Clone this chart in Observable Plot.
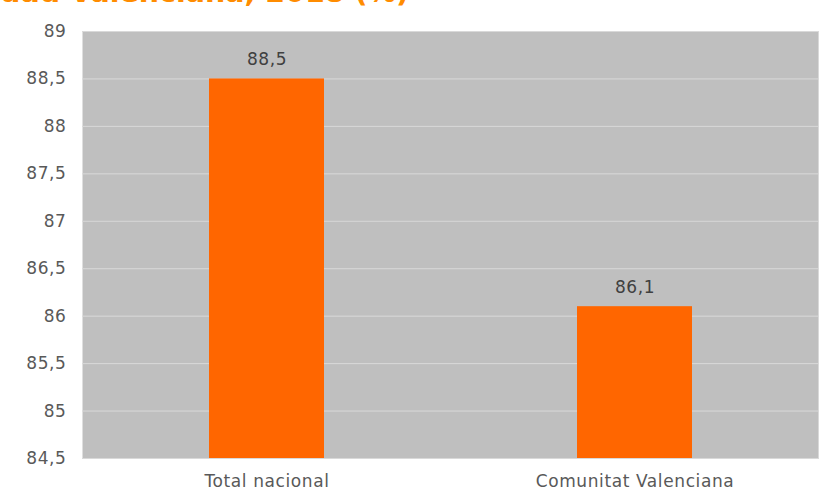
<!DOCTYPE html>
<html>
<head>
<meta charset="utf-8">
<script src="https://cdn.jsdelivr.net/npm/d3@7"></script>
<script src="https://cdn.jsdelivr.net/npm/@observablehq/plot@0.6"></script>
<style>
  html, body { margin: 0; padding: 0; background: #ffffff; }
  #wrap { position: relative; width: 831px; height: 500px; overflow: hidden; }
  #title { position: absolute; left: 0; top: -24px; font-family: "DejaVu Sans", Verdana, sans-serif;
           font-weight: bold; font-size: 28.5px; color: #ff8c00; white-space: nowrap; }
  #chart text { letter-spacing: 0.6px; }
</style>
</head>
<body>
<div id="wrap">
  <div id="chart"></div>
  <div id="title">dad Valenciana, 2018 (%)</div>
</div>
<script>
const categories = ["Total nacional", "Comunitat Valenciana"];
const values = [88.5, 86.1];
const yTicks = [84.5, 85, 85.5, 86, 86.5, 87, 87.5, 88, 88.5, 89];

const data = categories.map((c, i) => ({ category: c, value: values[i] }));
const fmt = v => d3.format("~f")(v).replace(".", ",");

const chart = Plot.plot({
  width: 831,
  height: 500,
  marginTop: 31,
  marginBottom: 42,
  marginLeft: 82,
  marginRight: 13,
  style: { fontFamily: "'DejaVu Sans', Verdana, sans-serif", fontSize: "17px", background: "#ffffff" },
  x: { domain: categories, paddingInner: 0.6875, paddingOuter: 0.34375, label: null },
  y: { domain: [84.5, 89], label: null },
  marks: [
    Plot.frame({ fill: "#bfbfbf", stroke: null }),
    Plot.ruleY(yTicks, { stroke: "#d9d9d9", strokeWidth: 1 }),
    Plot.frame({ anchor: "right", stroke: "#d9d9d9" }),
    Plot.barY(data, { x: "category", y1: 84.5, y2: "value", fill: "#ff6600" }),
    Plot.text(data, { x: "category", y: "value", text: d => fmt(d.value), dy: -19, fill: "#404040", fontSize: 17 }),
    Plot.axisY(yTicks, { tickSize: 0, tickPadding: 16, tickFormat: fmt, fill: "#595959", fontSize: 17 }),
    Plot.axisX({ tickSize: 0, tickPadding: 16, fill: "#595959", fontSize: 17 })
  ]
});
document.getElementById("chart").appendChild(chart);
</script>
</body>
</html>
